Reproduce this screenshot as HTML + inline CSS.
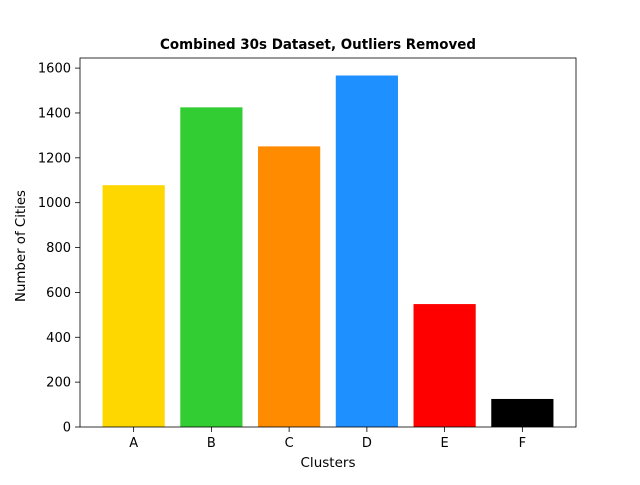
<!DOCTYPE html>
<html><head><meta charset="utf-8"><style>
body{margin:0;background:#fff;}
svg{font-family:"DejaVu Sans","Liberation Sans",sans-serif;}
</style></head><body>
<svg id="chart" width="640" height="480" xmlns="http://www.w3.org/2000/svg">
<rect width="640" height="480" fill="#fff"/>
<text x="318" y="49" text-anchor="middle" font-size="14" font-weight="bold" textLength="316" lengthAdjust="spacingAndGlyphs">Combined 30s Dataset, Outliers Removed</text>
<g id="bars"></g>
<g id="axes"></g>
<text x="328" y="467" text-anchor="middle" font-size="13.5" textLength="55" lengthAdjust="spacingAndGlyphs">Clusters</text>
<text transform="translate(25,246) rotate(-90)" text-anchor="middle" font-size="13.5" textLength="112" lengthAdjust="spacingAndGlyphs">Number of Cities</text>
</svg>
<script>
const categories = ['A','B','C','D','E','F'];
const values = [1078, 1425, 1251, 1567, 548, 125];
const colors = ['#ffd700','#32cd32','#ff8c00','#1e90ff','#ff0000','#000000'];
const yTicks = [0,200,400,600,800,1000,1200,1400,1600];

const L=80,R=576,T=58,B=427;
const xMin=-0.69,xMax=5.69,yMax=1645;
const xs=v=>L+(v-xMin)/(xMax-xMin)*(R-L);
const ys=v=>B-v/yMax*(B-T);
const NS='http://www.w3.org/2000/svg';
function mk(tag,attrs,parent){const e=document.createElementNS(NS,tag);for(const k in attrs)e.setAttribute(k,attrs[k]);parent.appendChild(e);return e;}
const bars=document.getElementById('bars'), axes=document.getElementById('axes');
categories.forEach((c,i)=>{
  const x0=xs(i-0.4),x1=xs(i+0.4);
  const r=mk('rect',{x:x0,y:ys(values[i]),width:x1-x0,height:B-ys(values[i]),fill:colors[i]},bars);
  
  
  const t=mk('line',{x1:xs(i),x2:xs(i),y1:B,y2:B+5,stroke:'#000','stroke-width':0.8},axes);
  
  
  const l=mk('text',{x:xs(i),y:B+20,'text-anchor':'middle','font-size':13},axes);
  l.textContent=c;
  
  
});
yTicks.forEach(v=>{
  const y=ys(v);
  const t=mk('line',{x1:L-5,x2:L,y1:y,y2:y,stroke:'#000','stroke-width':0.8},axes);
  
  
  const l=mk('text',{x:L-9,y:y+4.5,'text-anchor':'end','font-size':13},axes);
  l.textContent=v;
  
  
});
const f=mk('rect',{x:L,y:T,width:R-L,height:B-T,fill:'none',stroke:'#000','stroke-width':0.8},axes);


</script>
</body></html>
